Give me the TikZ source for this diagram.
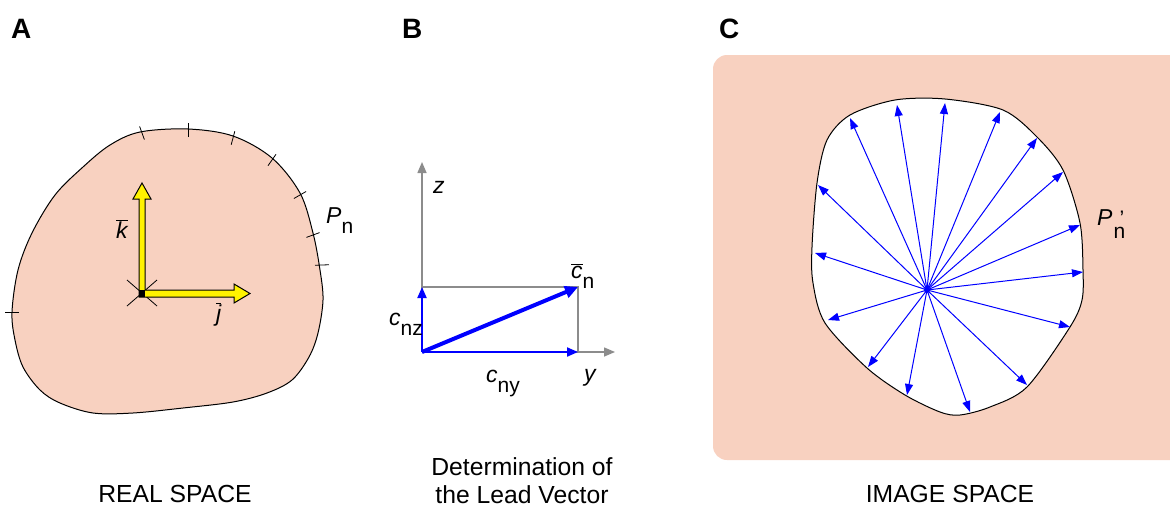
\documentclass[tikz,border=0pt]{standalone}
\usepackage{fontspec}
\setmainfont{Liberation Sans}
\usetikzlibrary{arrows.meta}
\definecolor{peach}{RGB}{248,209,192}
\definecolor{axgray}{RGB}{140,140,140}
\definecolor{vblue}{RGB}{0,0,255}
\newcommand\subn[1]{\raisebox{-10pt}{\upshape\fontsize{21}{21}\selectfont #1}}
\begin{document}
\begin{tikzpicture}[x=1pt,y=-1pt,
  lbl/.style={font=\fontsize{23}{23}\selectfont\itshape, inner sep=0pt, anchor=base west},
  sublbl/.style={font=\fontsize{21}{21}\selectfont, inner sep=0pt, anchor=base west},
  captext/.style={font=\fontsize{24.7}{28}\selectfont, inner sep=0pt, anchor=base},
  panel/.style={font=\bfseries\fontsize{28}{28}\selectfont, inner sep=0pt, anchor=base west},
  axisline/.style={axgray, line width=1.5pt, -{Triangle[length=11pt,width=9pt]}},
  guide/.style={axgray, line width=1.5pt},
  comp/.style={vblue, line width=2pt, -{Triangle[length=11pt,width=9pt]}},
  lead/.style={vblue, line width=4pt, -{Triangle[length=13pt,width=12pt]}},
  ray/.style={vblue, line width=1pt, -{Triangle[length=11pt,width=8pt]}},
  tickmark/.style={black, line width=0.8pt}]
\useasboundingbox (0,0) rectangle (1170,506);

% ---------- Panel A ----------
\node[panel] (la) at (11,38) {A};
\draw[fill=peach, line width=1pt] plot[smooth cycle, tension=0.55] coordinates {
 (188,129) (233,136) (272,158) (300,193) (313,233) (320,270) (323,300) (318,333)
 (309,357) (292,380) (267,393) (233,402) (183,408) (133,413) (93,413) (60,403)
 (40,390) (23,367) (15,340) (12,312) (18,270) (32,233) (55,195) (83,167) (110,145) (140,132)};
\foreach \x/\y/\a in {142/133/70, 188/130/90, 233/138/105, 272/160/125, 300/195/150,
  313/235/160, 322/265/178, 12/312/0}
  \draw[tickmark] (\x,\y) ++(\a:7) -- ++(\a+180:14);
\coordinate (orig) at (142,293);
\draw[tickmark] (orig) ++(-15,-13) -- ++(30,26);
\draw[tickmark] (orig) ++(-15,13) -- ++(30,-26);
\draw[fill=yellow, line width=1pt, line join=miter]
  (139,297) -- (139,199) -- (133,199) -- (142,183) -- (151,199) -- (145,199)
  -- (145,290) -- (234,290) -- (234,284) -- (250,293.5) -- (234,303) -- (234,297) -- cycle;
\fill[black] (139,290) rectangle (145,297);
\node[lbl] (kk) at (116,238) {$\overline{\hbox{\itshape k}}$};
\node[lbl] (jj) at (216,321) {$\overline{\hbox{\itshape j}}$};
\node[lbl] (pn) at (326,223) {P\subn{n}};
\node[captext] (capa) at (175,502) {REAL SPACE};

% ---------- Panel B ----------
\node[panel] (lb) at (402,38) {B};
\coordinate (O) at (422,352);
\coordinate (Zt) at (422,162);
\coordinate (Yt) at (615,352);
\coordinate (Cz) at (422,287);
\coordinate (Cy) at (578,352);
\coordinate (C) at (578,287);
\draw[axisline] (O) -- (Zt);
\draw[axisline] (O) -- (Yt);
\draw[guide] (Cz) -- (C) -- (Cy);
\draw[comp] (O) -- (Cz);
\draw[comp] (O) -- (Cy);
\draw[lead] (O) -- (C);
\node[lbl] (zl) at (433,193) {z};
\node[lbl] (yl) at (584,381) {y};
\node[lbl] (cnz) at (389,325) {c\subn{nz}};
\node[lbl] (cny) at (486,382) {c\subn{ny}};
\node[lbl] (cn) at (571,278) {$\overline{\hbox{\itshape c}}$\subn{n}};
\node[captext] (capb1) at (522,475) {Determination of};
\node[captext] (capb2) at (522,503) {the Lead Vector};

% ---------- Panel C ----------
\node[panel] (lc) at (719,38) {C};
\begin{scope}
\clip (0,0) rectangle (1170,506);
\fill[peach, rounded corners=14pt] (713,55) rectangle (1200,460);
\end{scope}
\draw[fill=white, line width=1pt] plot[smooth cycle, tension=0.5] coordinates {
 (895,100) (945,99) (1003,110) (1037,137) (1063,170) (1080,223) (1083,270) (1082,300)
 (1070,327) (1027,387) (990,407) (960,415) (940,412) (905,395) (867,368) (825,323) (813,283)
 (812,247) (817,183) (827,140) (850,115)};
\coordinate (ctr) at (927,290);
\foreach \x/\y [count=\i] in {897/105, 945/103, 1000/112, 1037/138, 1063/172, 1080/225,
  1083/272, 1070/327, 1027/385, 970/412, 907/395, 868/367, 828/320, 815/253, 818/185, 850/118}{
  \coordinate (t\i) at (\x,\y);
  \draw[ray] (ctr) -- (t\i);
}
\fill[vblue] (ctr) circle (3pt);
\node[lbl] (pp) at (1097,225) {P};
\node[sublbl] (psub) at (1113.5,238) {\rlap{\hspace{6pt}\raisebox{13pt}{'}}n};
\node[captext] (capc) at (950,502) {IMAGE SPACE};
\end{tikzpicture}
\end{document}
